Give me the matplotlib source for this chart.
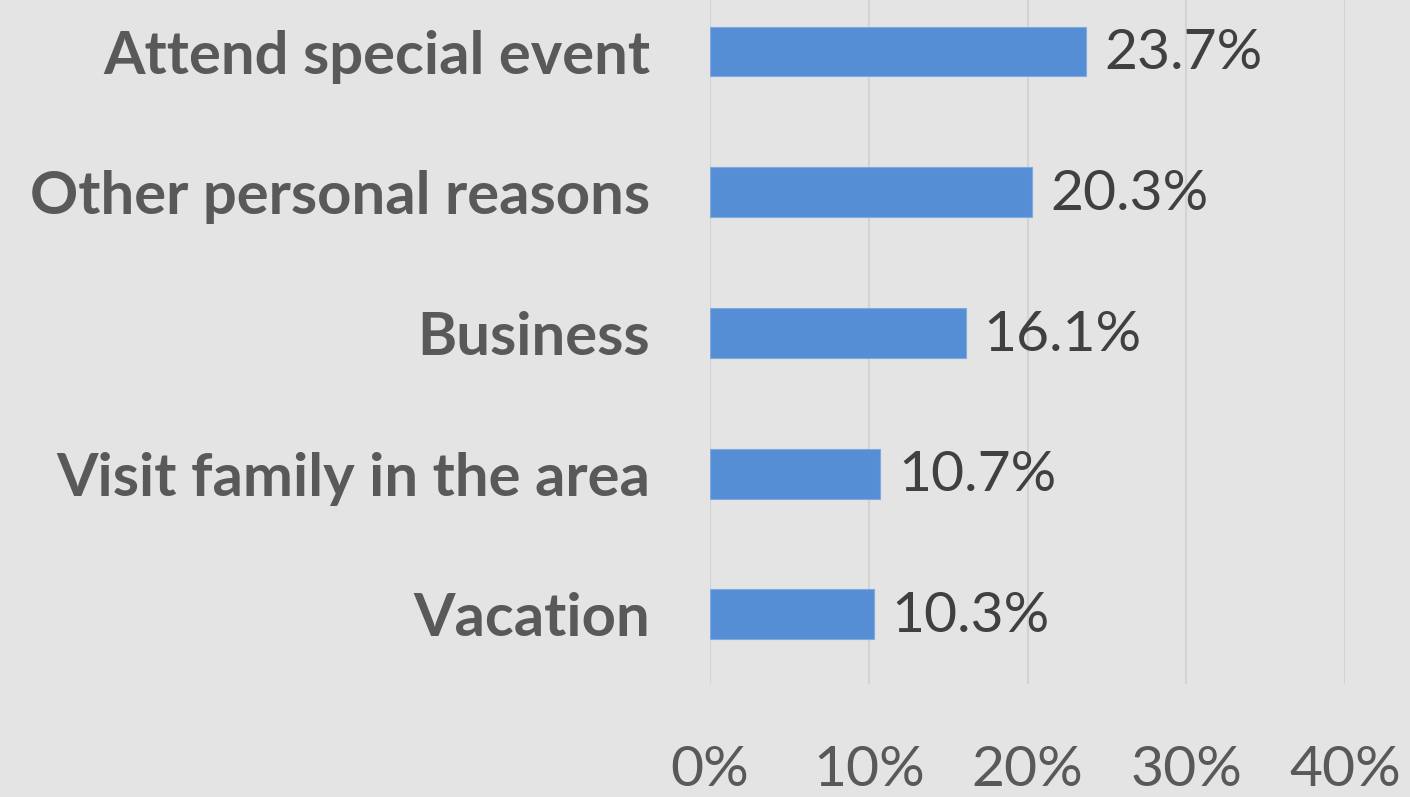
import matplotlib
matplotlib.use("Agg")
import matplotlib.pyplot as plt

categories = ["Vacation", "Visit family in the area", "Business",
              "Other personal reasons", "Attend special event"]
values = [10.3, 10.7, 16.1, 20.3, 23.7]
xticks = [0, 10, 20, 30, 40]
xtick_labels = ["0%", "10%", "20%", "30%", "40%"]

BG = "#E4E4E4"
fig = plt.figure(figsize=(14.1, 7.97), dpi=100, facecolor=BG)
ax = fig.add_axes([710/1410, (797-684)/797, (1345-710)/1410, 684/797])
ax.set_facecolor(BG)

y = list(range(len(categories)))
ax.barh(y, values, height=0.355, color="#558ED5", edgecolor="#7FAAE0", linewidth=0.8, zorder=3)

ax.set_xlim(0, 40)
ax.set_ylim(-0.494, 4.366)
ax.set_xticks(xticks)
ax.set_xticklabels(xtick_labels)
ax.set_yticks(y)
ax.set_yticklabels(categories)

ax.grid(axis="x", color="#D3D3D3", linewidth=1.5, zorder=0)
for s in ax.spines.values():
    s.set_visible(False)
ax.tick_params(axis="both", length=0)
ax.tick_params(axis="x", pad=44, labelsize=41, labelcolor="#595959")
ax.tick_params(axis="y", pad=43, labelsize=43, labelcolor="#595959")
for lab in ax.get_xticklabels():
    lab.set_fontfamily("Lato")
for lab in ax.get_yticklabels():
    lab.set_fontfamily("Lato")
    lab.set_fontweight("bold")

for yi, v in zip(y, values):
    ax.annotate(f"{v:.1f}%", xy=(v, yi), xytext=(13, -1.5), textcoords="offset points",
                ha="left", va="center", fontsize=41, color="#404040", family="Lato")

fig.savefig("out.png", dpi=100, facecolor=BG)
